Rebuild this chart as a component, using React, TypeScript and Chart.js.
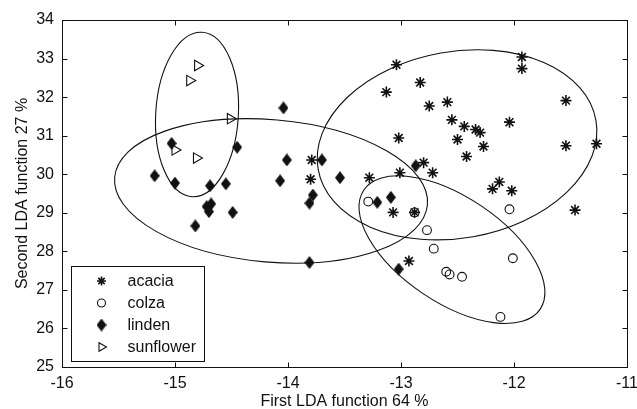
import React, { useEffect, useRef } from 'react';
import { Chart, registerables } from 'chart.js';
import { drawPoint } from 'chart.js/helpers';

Chart.register(...registerables);

// ---------- data ----------
const xTickValues = [-16, -15, -14, -13, -12, -11];
const yTickValues = [25, 26, 27, 28, 29, 30, 31, 32, 33, 34];
const xTitle = 'First LDA function 64 %';
const yTitle = 'Second LDA function 27 %';
const seriesNames = ['acacia', 'colza', 'linden', 'sunflower'];

const acacia: [number, number][] = [
  [-13.04, 32.84], [-13.13, 32.13], [-12.83, 32.38], [-12.75, 31.77], [-12.59, 31.87],
  [-12.55, 31.41], [-12.44, 31.24], [-12.34, 31.16], [-12.30, 31.08], [-12.50, 30.90],
  [-12.27, 30.72], [-12.42, 30.46], [-13.02, 30.94], [-12.04, 31.35], [-11.93, 33.04],
  [-11.93, 32.74], [-11.54, 31.91], [-11.54, 30.74], [-11.27, 30.79], [-12.80, 30.30],
  [-12.72, 30.04], [-13.01, 30.04], [-13.28, 29.91], [-12.13, 29.80], [-12.19, 29.62],
  [-12.02, 29.57], [-11.46, 29.07], [-13.79, 30.37], [-13.80, 29.87], [-13.07, 29.01],
  [-12.88, 29.01], [-12.93, 27.75],
];

const colza: [number, number][] = [
  [-13.29, 29.29], [-12.88, 29.01], [-12.77, 28.55], [-12.71, 28.07], [-12.60, 27.47],
  [-12.57, 27.40], [-12.46, 27.34], [-12.04, 29.09], [-12.01, 27.82], [-12.12, 26.30],
];

const linden: [number, number][] = [
  [-14.04, 31.72], [-14.45, 30.70], [-15.03, 30.80], [-14.01, 30.37], [-13.70, 30.37],
  [-15.18, 29.96], [-15.00, 29.77], [-14.69, 29.70], [-14.55, 29.75], [-14.07, 29.83],
  [-13.78, 29.46], [-13.81, 29.25], [-14.68, 29.23], [-14.72, 29.16], [-14.70, 29.03],
  [-14.49, 29.01], [-14.82, 28.66], [-13.81, 27.71], [-13.54, 29.91], [-12.87, 30.22],
  [-13.21, 29.27], [-13.09, 29.40], [-13.02, 27.54],
];

const sunflower: [number, number][] = [
  [-14.80, 32.82], [-14.87, 32.43], [-14.51, 31.44], [-15.00, 30.63], [-14.81, 30.42],
];

// class ellipses (data units): centre and two conjugate semi-axis vectors
const ellipseCenters: [number, number][] = [
  [-12.504, 30.762], [-12.549, 28.044], [-14.150, 29.566], [-14.805, 31.55],
];
const ellipseAxisA: [number, number][] = [
  [1.229, 0.637], [0.781, -1.542], [1.384, -0.356], [0.044, 2.133],
];
const ellipseAxisB: [number, number][] = [
  [0.143, -2.382], [-0.259, -1.134], [-0.055, -1.839], [0.365, -0.065],
];

// ---------- styling ----------
const INK = '#111';
const FONT = 'Liberation Sans, Arial, Helvetica, sans-serif';

function makeDiamond(w: number, h: number): HTMLCanvasElement {
  const c = document.createElement('canvas');
  c.width = w;
  c.height = h;
  const g = c.getContext('2d')!;
  g.fillStyle = INK;
  g.beginPath();
  g.moveTo(w / 2, 0);
  g.lineTo(w, h / 2);
  g.lineTo(w / 2, h);
  g.lineTo(0, h / 2);
  g.closePath();
  g.fill();
  return c;
}

const ellipsePlugin = {
  id: 'ldaEllipses',
  beforeDatasetsDraw(chart: any) {
    const { ctx, scales } = chart;
    const xs = scales.x;
    const ys = scales.y;
    ctx.save();
    ctx.strokeStyle = INK;
    ctx.lineWidth = 1.1;
    ellipseCenters.forEach((c, i) => {
      const cx = xs.getPixelForValue(c[0]);
      const cy = ys.getPixelForValue(c[1]);
      const a = ellipseAxisA[i];
      const b = ellipseAxisB[i];
      const ax = xs.getPixelForValue(c[0] + a[0]) - cx;
      const ay = ys.getPixelForValue(c[1] + a[1]) - cy;
      const bx = xs.getPixelForValue(c[0] + b[0]) - cx;
      const by = ys.getPixelForValue(c[1] + b[1]) - cy;
      ctx.save();
      ctx.beginPath();
      ctx.translate(cx, cy);
      ctx.transform(ax, ay, bx, by, 0, 0);
      ctx.arc(0, 0, 1, 0, Math.PI * 2);
      ctx.restore();
      ctx.stroke();
    });
    ctx.restore();
  },
};

const framePlugin = {
  id: 'matlabFrame',
  afterDraw(chart: any) {
    const { ctx, chartArea, scales } = chart;
    const L = Math.round(chartArea.left) + 0.5;
    const R = Math.round(chartArea.right) + 0.5;
    const T = Math.round(chartArea.top) + 0.5;
    const B = Math.round(chartArea.bottom) + 0.5;
    ctx.save();
    ctx.strokeStyle = INK;
    ctx.lineWidth = 1;
    ctx.strokeRect(L, T, R - L, B - T);
    const tl = 5;
    ctx.beginPath();
    xTickValues.forEach((v) => {
      const px = Math.round(scales.x.getPixelForValue(v)) + 0.5;
      ctx.moveTo(px, B);
      ctx.lineTo(px, B - tl);
      ctx.moveTo(px, T);
      ctx.lineTo(px, T + tl);
    });
    yTickValues.forEach((v) => {
      const py = Math.round(scales.y.getPixelForValue(v)) + 0.5;
      ctx.moveTo(L, py);
      ctx.lineTo(L + tl, py);
      ctx.moveTo(R, py);
      ctx.lineTo(R - tl, py);
    });
    ctx.stroke();
    ctx.restore();
  },
};

const legendPlugin = {
  id: 'boxLegend',
  afterDraw(chart: any) {
    const { ctx, chartArea } = chart;
    const bw = 133;
    const bh = 95;
    const bl = Math.round(chartArea.left + 9) + 0.5;
    const bt = Math.round(chartArea.bottom - 6 - bh) + 0.5;
    ctx.save();
    ctx.fillStyle = '#fff';
    ctx.fillRect(bl, bt, bw, bh);
    ctx.strokeStyle = INK;
    ctx.lineWidth = 1;
    ctx.strokeRect(bl, bt, bw, bh);
    chart.data.datasets.forEach((ds: any, i: number) => {
      const cy = bt + 14.5 + i * 22;
      const mx = bl + 30;
      ctx.save();
      ctx.fillStyle = ds.legendFill;
      ctx.strokeStyle = INK;
      ctx.lineWidth = ds.pointBorderWidth;
      drawPoint(ctx, {
        pointStyle: ds.pointStyle,
        radius: ds.legendRadius,
        rotation: ds.pointRotation || 0,
        borderWidth: ds.pointBorderWidth,
      } as any, mx, cy);
      ctx.restore();
      ctx.fillStyle = INK;
      ctx.font = `16px ${FONT}`;
      ctx.textAlign = 'left';
      ctx.textBaseline = 'middle';
      ctx.fillText(ds.label, bl + 56, cy + 1);
    });
    ctx.restore();
  },
};

const toPts = (arr: [number, number][]) => arr.map(([x, y]) => ({ x, y }));

export default function App() {
  const canvasRef = useRef<HTMLCanvasElement | null>(null);

  useEffect(() => {
    const canvas = canvasRef.current;
    if (!canvas) return;
    const diamond = makeDiamond(10, 13);
    const chart = new Chart(canvas, {
      type: 'scatter',
      data: {
        datasets: [
          {
            label: seriesNames[0],
            data: toPts(acacia),
            pointStyle: 'star',
            pointRadius: 5.5,
            pointBorderWidth: 1.6,
            pointBorderColor: INK,
            pointBackgroundColor: INK,
            legendFill: INK,
            legendRadius: 4.5,
          } as any,
          {
            label: seriesNames[1],
            data: toPts(colza),
            pointStyle: 'circle',
            pointRadius: 4.4,
            pointBorderWidth: 1.1,
            pointBorderColor: INK,
            pointBackgroundColor: 'rgba(255,255,255,0)',
            legendFill: 'rgba(255,255,255,0)',
            legendRadius: 4,
          } as any,
          {
            label: seriesNames[2],
            data: toPts(linden),
            pointStyle: diamond,
            pointRadius: 5,
            pointBorderWidth: 0,
            pointBorderColor: INK,
            pointBackgroundColor: INK,
            legendFill: INK,
            legendRadius: 5,
          } as any,
          {
            label: seriesNames[3],
            data: toPts(sunflower),
            pointStyle: 'triangle',
            pointRotation: 90,
            pointRadius: 6,
            pointBorderWidth: 1.1,
            pointBorderColor: INK,
            pointBackgroundColor: 'rgba(255,255,255,0)',
            legendFill: 'rgba(255,255,255,0)',
            legendRadius: 5,
          } as any,
        ],
      },
      options: {
        animation: false,
        responsive: false,
        maintainAspectRatio: false,
        events: [],
        layout: { padding: { top: 20, right: 10, left: 0, bottom: 0 } },
        plugins: {
          legend: { display: false },
          tooltip: { enabled: false },
        },
        scales: {
          x: {
            type: 'linear',
            min: -16,
            max: -11,
            afterFit: (s: any) => { s.height = 42; s.paddingLeft = 0; s.paddingRight = 0; },
            afterBuildTicks: (s: any) => { s.ticks = xTickValues.map((v) => ({ value: v })); },
            grid: { display: false, drawTicks: false },
            border: { display: false },
            ticks: {
              font: { family: FONT, size: 16 },
              color: INK,
              padding: 7,
              maxRotation: 0,
              callback: (v: any) => String(v),
            },
            title: {
              display: true,
              text: xTitle,
              color: INK,
              font: { family: FONT, size: 16, lineHeight: 1 },
              padding: { top: 0, bottom: -1 },
            },
          },
          y: {
            type: 'linear',
            min: 25,
            max: 34,
            afterFit: (s: any) => { s.width = 62; s.paddingTop = 0; s.paddingBottom = 0; },
            afterBuildTicks: (s: any) => { s.ticks = yTickValues.map((v) => ({ value: v })); },
            grid: { display: false, drawTicks: false },
            border: { display: false },
            ticks: {
              font: { family: FONT, size: 16 },
              color: INK,
              padding: 8,
              callback: (v: any) => String(v),
            },
            title: {
              display: true,
              text: yTitle,
              color: INK,
              font: { family: FONT, size: 16, lineHeight: 1 },
              padding: { top: 15, bottom: 0 },
            },
          },
        },
      } as any,
      plugins: [ellipsePlugin, framePlugin, legendPlugin],
    });
    return () => chart.destroy();
  }, []);

  return (
    <canvas
      ref={canvasRef}
      width={637}
      height={409}
      style={{ position: 'absolute', left: 0, top: 0, width: 637, height: 409, display: 'block', background: '#fff' }}
    />
  );
}
